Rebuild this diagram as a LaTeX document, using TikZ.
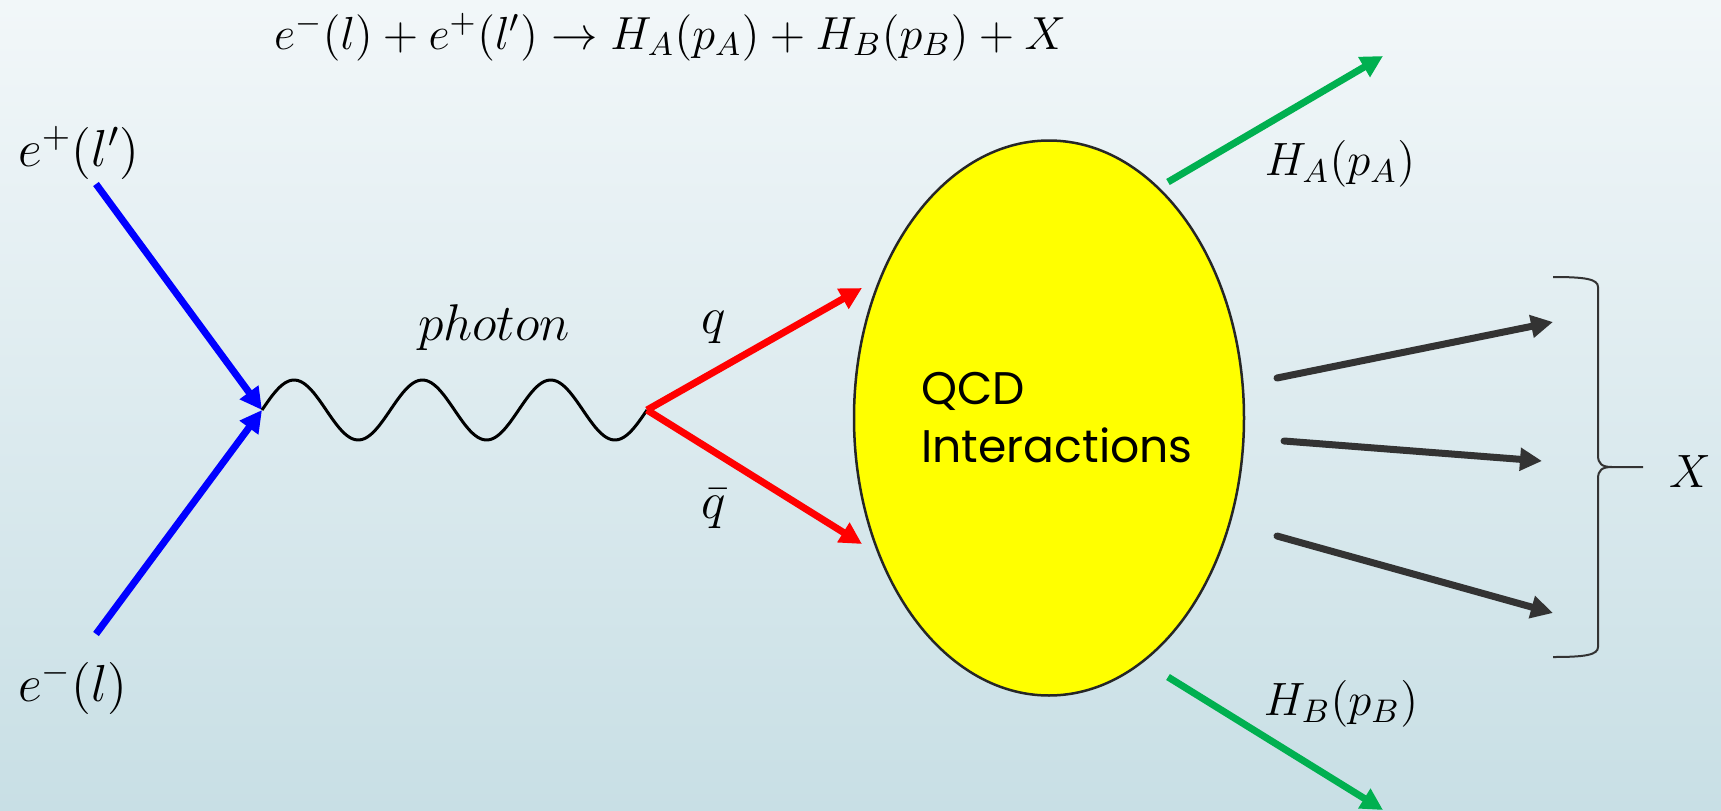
\RequirePackage{fix-cm}
\documentclass[tikz,border=0pt]{standalone}
\usepackage{amsmath,amssymb}
\usepackage{fontspec}
\usepackage{tikz}
\usetikzlibrary{shapes.geometric,arrows.meta,positioning,calc}
\newfontfamily\qcdfont{Poppins}
\definecolor{EEtop}{RGB}{242,247,249}
\definecolor{EEbot}{RGB}{200,223,229}
\definecolor{EEblue}{RGB}{0,0,255}
\definecolor{EEred}{RGB}{255,0,0}
\definecolor{EEgreen}{RGB}{0,176,80}
\definecolor{EEyellow}{RGB}{255,255,0}
\definecolor{EEdark}{RGB}{51,51,51}
\tikzstyle{prt}  = [line width=0.7mm, -{Triangle[length=2.2mm,width=2.2mm]}]
\tikzstyle{Plep} = [prt, EEblue]
\tikzstyle{Pqrk} = [prt, EEred]
\tikzstyle{Phad} = [prt, EEgreen]
\tikzstyle{Pjet} = [prt, EEdark, line cap=round]
\tikzstyle{Pgam} = [line width=0.3mm, line join=round]
\tikzstyle{lbl}  = [inner sep=0pt, anchor=base, font=\fontsize{13.3}{15}\selectfont]
\tikzstyle{Lee}  = [lbl, font=\fontsize{14.8}{16}\selectfont]
\tikzstyle{blob} = [ellipse, draw=black!85, line width=0.25mm, fill=EEyellow,
                    minimum width=39mm, minimum height=55.5mm, inner sep=0pt]
\tikzstyle{Tqcd} = [align=left, inner sep=0pt,
                    font=\qcdfont\fontsize{13}{16.5}\selectfont]
\tikzstyle{brc}  = [line width=0.2mm, EEdark]

\begin{document}
\begin{tikzpicture}[x=0.1mm, y=-0.1mm]
  % background
  \shade[top color=EEtop, bottom color=EEbot] (0,0) rectangle (1721,810);
  \useasboundingbox (0,0) rectangle (1721,810);

  \node[lbl, font=\fontsize{13.2}{15}\selectfont] (reac) at (670,49)
    {$e^-(l)+e^+(l')\to H_A(p_A)+H_B(p_B)+X$};

  % incoming leptons
  \node[Lee] (ep) at (79,166) {$e^+(l')$};
  \node[Lee] (em) at (73,701) {$e^-(l)$};
  \coordinate (epin) at (96,184);
  \coordinate (emin) at (96,634);
  \coordinate (v1) at (262,410);
  \draw[Plep] (epin) -- (v1);
  \draw[Plep] (emin) -- (v1);

  % photon
  \coordinate (v2) at (647,410);
  \draw[Pgam, shift={(v1)}] plot[domain=0:385, samples=151]
    (\x, {-30*sin(2.80519*\x)});
  \node[lbl, font=\fontsize{14.7}{16}\selectfont] (gam) at (494,340) {$photon$};

  % quarks
  \node[blob] (qcd) at (1049,418) {};
  \node[Tqcd, xshift=0.8mm] (qcdtxt) at (qcd.center) {QCD\\Interactions};
  \coordinate (qtip) at (862,288);
  \coordinate (qbtip) at (862,544);
  \draw[Pqrk] (v2) -- (qtip);
  \draw[Pqrk] (v2) -- (qbtip);
  \node[Lee] (q) at (714,333) {$q$};
  \node[Lee] (qb) at (714,518) {$\bar{q}$};

  % hadrons
  \coordinate (haout) at (1168,182);
  \coordinate (hatip) at (1383,56);
  \coordinate (hbout) at (1168,677);
  \coordinate (hbtip) at (1383,810);
  \draw[Phad] (haout) -- (hatip);
  \draw[Phad] (hbout) -- (hbtip);
  \node[lbl] (ha) at (1340,175) {$H_A(p_A)$};
  \node[lbl] (hb) at (1341,715) {$H_B(p_B)$};

  % rest X
  \coordinate (j1a) at (1277,378);
  \coordinate (j1b) at (1553,322);
  \coordinate (j2a) at (1284,441);
  \coordinate (j2b) at (1542,461);
  \coordinate (j3a) at (1277,536);
  \coordinate (j3b) at (1553,613);
  \draw[Pjet] (j1a) -- (j1b);
  \draw[Pjet] (j2a) -- (j2b);
  \draw[Pjet] (j3a) -- (j3b);

  \coordinate (xtop) at (1553,277);
  \coordinate (xtip) at (1643,467);
  \coordinate (xbot) at (1553,657);
  \draw[brc] (xtop) .. controls (1585,277) and (1598,279) .. (1598,287)
    -- (1598,455) .. controls (1598,464) and (1602,467) .. (1612,467) -- (xtip);
  \draw[brc] (xbot) .. controls (1585,657) and (1598,655) .. (1598,647)
    -- (1598,479) .. controls (1598,470) and (1602,467) .. (1612,467);
  \node[lbl] (xl) at (1690,487) {$X$};
\end{tikzpicture}
\end{document}
